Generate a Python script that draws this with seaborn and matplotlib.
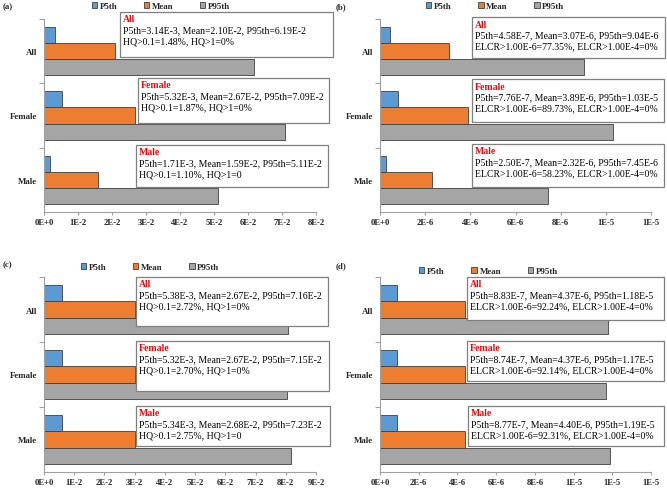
import matplotlib
matplotlib.use("Agg")
import matplotlib.pyplot as plt
import seaborn as sns
import pandas as pd
from matplotlib.patches import Rectangle

sns.set_theme(style="white")
plt.rcParams['font.family'] = ['Liberation Serif', 'DejaVu Serif']

groups = ["All", "Female", "Male"]
stats = ["P5th", "Mean", "P95th"]
colors = ["#5B9BD5", "#ED7D31", "#A5A5A5"]

# panel (a) values
a_p5 = [3.14e-3, 5.32e-3, 1.71e-3]
a_mean = [2.10e-2, 2.67e-2, 1.59e-2]
a_p95 = [6.19e-2, 7.09e-2, 5.11e-2]
a_ticks = [0, 1e-2, 2e-2, 3e-2, 4e-2, 5e-2, 6e-2, 7e-2, 8e-2]
a_ticklabels = ["0E+0", "1E-2", "2E-2", "3E-2", "4E-2", "5E-2", "6E-2", "7E-2", "8E-2"]

# panel (b) values
b_p5 = [4.58e-7, 7.76e-7, 2.50e-7]
b_mean = [3.07e-6, 3.89e-6, 2.32e-6]
b_p95 = [9.04e-6, 1.03e-5, 7.45e-6]
b_ticks = [0, 2e-6, 4e-6, 6e-6, 8e-6, 1e-5, 1.2e-5]
b_ticklabels = ["0E+0", "2E-6", "4E-6", "6E-6", "8E-6", "1E-5", "1E-5"]

# panel (c) values (bar lengths as drawn)
c_p5 = [0.60e-2, 0.60e-2, 0.60e-2]
c_mean = [3.00e-2, 3.00e-2, 3.00e-2]
c_p95 = [8.06e-2, 8.05e-2, 8.16e-2]
c_ticks = [0, 1e-2, 2e-2, 3e-2, 4e-2, 5e-2, 6e-2, 7e-2, 8e-2, 9e-2]
c_ticklabels = ["0E+0", "1E-2", "2E-2", "3E-2", "4E-2", "5E-2", "6E-2", "7E-2", "8E-2", "9E-2"]

# panel (d) values
d_p5 = [8.83e-7, 8.74e-7, 8.77e-7]
d_mean = [4.37e-6, 4.37e-6, 4.40e-6]
d_p95 = [1.18e-5, 1.17e-5, 1.19e-5]
d_ticks = [0, 2e-6, 4e-6, 6e-6, 8e-6, 1e-5, 1.2e-5, 1.4e-5]
d_ticklabels = ["0E+0", "2E-6", "4E-6", "6E-6", "8E-6", "1E-5", "1E-5", "1E-5"]

a_notes = [
    ["P5th=3.14E-3, Mean=2.10E-2, P95th=6.19E-2", "HQ>0.1=1.48%, HQ>1=0%"],
    ["P5th=5.32E-3, Mean=2.67E-2, P95th=7.09E-2", "HQ>0.1=1.87%, HQ>1=0%"],
    ["P5th=1.71E-3, Mean=1.59E-2, P95th=5.11E-2", "HQ>0.1=1.10%, HQ>1=0"],
]
b_notes = [
    ["P5th=4.58E-7, Mean=3.07E-6, P95th=9.04E-6", "ELCR>1.00E-6=77.35%, ELCR>1.00E-4=0%"],
    ["P5th=7.76E-7, Mean=3.89E-6, P95th=1.03E-5", "ELCR>1.00E-6=89.73%, ELCR>1.00E-4=0%"],
    ["P5th=2.50E-7, Mean=2.32E-6, P95th=7.45E-6", "ELCR>1.00E-6=58.23%, ELCR>1.00E-4=0%"],
]
c_notes = [
    ["P5th=5.38E-3, Mean=2.67E-2, P95th=7.16E-2", "HQ>0.1=2.72%, HQ>1=0%"],
    ["P5th=5.32E-3, Mean=2.67E-2, P95th=7.15E-2", "HQ>0.1=2.70%, HQ>1=0%"],
    ["P5th=5.34E-3, Mean=2.68E-2, P95th=7.23E-2", "HQ>0.1=2.75%, HQ>1=0"],
]
d_notes = [
    ["P5th=8.83E-7, Mean=4.37E-6, P95th=1.18E-5", "ELCR>1.00E-6=92.24%, ELCR>1.00E-4=0%"],
    ["P5th=8.74E-7, Mean=4.37E-6, P95th=1.17E-5", "ELCR>1.00E-6=92.14%, ELCR>1.00E-4=0%"],
    ["P5th=8.77E-7, Mean=4.40E-6, P95th=1.19E-5", "ELCR>1.00E-6=92.31%, ELCR>1.00E-4=0%"],
]

W, H = 667, 489
fig = plt.figure(figsize=(W / 100, H / 100), dpi=100)


def fx(x):
    return x / W


def fy(y):
    return 1 - y / H


panels = [
    dict(label="(a)", p5=a_p5, mean=a_mean, p95=a_p95, ticks=a_ticks, tl=a_ticklabels, notes=a_notes,
         ax=(44, 20, 316, 213), lab=(3, 7), leg=(0.43, 1.067),
         boxes=[(120, 13, 333, 58), (138, 79, 329, 124), (136, 146, 328, 188)]),
    dict(label="(b)", p5=b_p5, mean=b_mean, p95=b_p95, ticks=b_ticks, tl=b_ticklabels, notes=b_notes,
         ax=(380, 20, 651, 213), lab=(336, 7), leg=(0.425, 1.067),
         boxes=[(472, 18, 665, 59), (472, 80, 664, 123), (472, 145, 664, 188)]),
    dict(label="(c)", p5=c_p5, mean=c_mean, p95=c_p95, ticks=c_ticks, tl=c_ticklabels, notes=c_notes,
         ax=(44, 278, 316, 473), lab=(3, 265), leg=(0.39, 1.051),
         boxes=[(136, 278, 328, 327), (136, 342, 329, 392), (136, 407, 330, 447)]),
    dict(label="(d)", p5=d_p5, mean=d_mean, p95=d_p95, ticks=d_ticks, tl=d_ticklabels, notes=d_notes,
         ax=(380, 278, 651, 473), lab=(336, 266), leg=(0.40, 1.031),
         boxes=[(467, 278, 664, 321), (467, 342, 664, 382), (468, 407, 664, 447)]),
]

spine_c = "#A0A0A0"

for p in panels:
    l, t, r, b = p["ax"]
    ax = fig.add_axes([fx(l), fy(b), fx(r) - fx(l), (b - t) / H])
    rows = []
    for i, g in enumerate(groups):
        rows.append((g, "P5th", p["p5"][i]))
        rows.append((g, "Mean", p["mean"][i]))
        rows.append((g, "P95th", p["p95"][i]))
    df = pd.DataFrame(rows, columns=["group", "stat", "value"])
    sns.barplot(data=df, y="group", x="value", hue="stat", hue_order=stats, order=groups,
                palette=colors, orient="h", width=0.75, edgecolor="#3F3F3F", linewidth=0.6,
                saturation=1, ax=ax)
    ax.set_xlim(p["ticks"][0], p["ticks"][-1])
    ax.set_ylim(2.5, -0.5)
    ax.set_xticks(p["ticks"])
    ax.set_xticklabels(p["tl"], fontsize=6.2, fontweight="bold")
    ax.set_yticks([0, 1, 2])
    ax.set_yticklabels(groups, fontsize=6.4, fontweight="bold")
    ax.set_yticks([-0.5, 0.5, 1.5], minor=True)
    ax.tick_params(axis="y", which="major", length=0, pad=5)
    ax.tick_params(axis="y", which="minor", length=3.5, width=0.8, color=spine_c, left=True)
    ax.tick_params(axis="x", which="major", length=2.5, width=0.8, color=spine_c, bottom=True, pad=2)
    ax.set_xlabel("")
    ax.set_ylabel("")
    for s in ["top", "right"]:
        ax.spines[s].set_visible(False)
    for s in ["left", "bottom"]:
        ax.spines[s].set_color(spine_c)
        ax.spines[s].set_linewidth(0.8)
    handles, labels = ax.get_legend_handles_labels()
    ax.legend(handles, labels, loc="center", bbox_to_anchor=p["leg"], ncol=3, frameon=False,
              prop=dict(size=6.4, weight="bold"), handlelength=0.6, handleheight=0.6,
              handletextpad=0.3, columnspacing=3.0, borderpad=0)
    fig.text(fx(p["lab"][0]), fy(p["lab"][1]), p["label"], fontsize=6.4, fontweight="bold",
             ha="left", va="center")
    for (bl, bt, br, bb), g, note in zip(p["boxes"], groups, p["notes"]):
        fig.patches.append(Rectangle((fx(bl), fy(bb)), fx(br) - fx(bl), (bb - bt) / H,
                                     transform=fig.transFigure, facecolor="white",
                                     edgecolor="#7F7F7F", linewidth=0.9, zorder=5))
        fig.text(fx(bl + 3), fy(bt + 7), g, color="#FF0000", fontsize=7.0, fontweight="bold",
                 ha="left", va="center", zorder=6)
        fig.text(fx(bl + 3), fy(bt + 18), note[0], color="black", fontsize=7.0,
                 ha="left", va="center", zorder=6)
        fig.text(fx(bl + 3), fy(bt + 29), note[1], color="black", fontsize=7.0,
                 ha="left", va="center", zorder=6)

fig.savefig("out.png", dpi=100)
